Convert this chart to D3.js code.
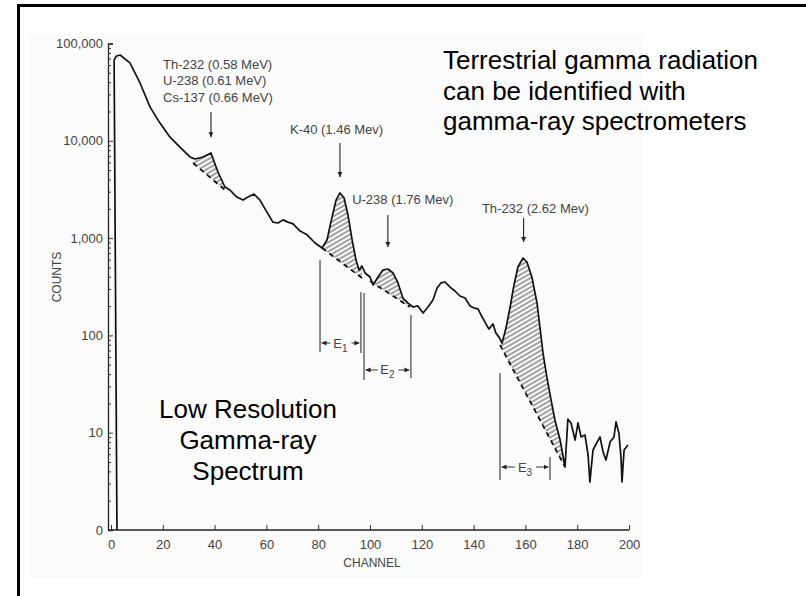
<!DOCTYPE html>
<html>
<head>
<meta charset="utf-8">
<script src="https://cdn.jsdelivr.net/npm/d3@7"></script>
<style>
  body { margin: 0; background: #fff; }
  svg { display: block; }
  text { font-family: "Liberation Sans", Arial, Helvetica, sans-serif; }
</style>
</head>
<body>
<svg id="chart" width="806" height="596"></svg>
<script>
// Gamma-ray spectrum: channel number vs counts (log scale)
const channels = [2.3, 1.2, 2.0, 3.5, 7.3, 11.2, 15.1, 18.9, 22.8, 26.6, 30.5, 32.4, 35.5, 38.6, 41.3, 44.0,
  45.9, 48.6, 51.0, 52.9, 55.2, 57.5, 60.2, 62.5, 64.5, 66.4, 68.3, 70.3, 73.0, 75.7, 78.8, 81.5, 83.4, 84.9,
  86.9, 88.4, 90.0, 91.5, 93.1, 94.6, 95.8, 96.9, 98.1, 100.0, 101.2, 103.1, 105.0, 106.9, 108.9, 110.8, 112.7,
  114.7, 116.6, 118.5, 120.5, 122.4, 124.3, 125.9, 127.4, 129.0, 130.9, 132.8, 134.7, 136.7, 138.6, 140.2, 141.7,
  142.9, 144.4, 145.9, 147.5, 148.6, 149.8, 151.0, 152.5, 154.1, 155.6, 157.1, 159.1, 160.6, 162.5, 164.5, 165.6,
  166.8, 168.3, 169.9, 171.4, 173.4, 175.3, 176.4, 177.6, 179.2, 180.3, 181.5, 183.0, 184.2, 184.9, 186.1, 188.8,
  190.0, 191.1, 192.7, 194.2, 195.0, 196.1, 196.9, 197.3, 198.1, 199.6];
const counts = [1, 67600, 74000, 76200, 63100, 39300, 22200, 15200, 10900, 8630, 6820, 6500, 6820, 7500, 4780, 3350,
  3120, 2640, 2460, 2640, 2840, 2460, 1850, 1460, 1430, 1540, 1460, 1400, 1180, 1080, 891, 791, 955, 1460,
  2460, 2910, 2580, 1730, 955, 595, 470, 517, 438, 398, 330, 398, 470, 481, 438, 346, 242,
  215, 196, 201, 170, 196, 231, 307, 346, 354, 314, 286, 254, 242, 201, 191, 187,
  162, 137, 116, 131, 106, 96, 83.5, 119, 196, 330, 505, 624, 568, 398, 215, 122,
  65.9, 37.3, 21.7, 13.5, 8.41, 4.44, 13.8, 12.6, 8.41, 12.6, 9.04, 9.47, 5.90, 3.11, 6.64, 9.04,
  6.34, 5.24, 8.02, 9.04, 12.9, 9.93, 5.63, 3.11, 6.64, 7.47];

// Background continuum under each photopeak (dashed straight lines on the log plot)
const baseStartChannel = [31.7, 81.5, 100.0, 150.2];
const baseEndChannel   = [44.0, 96.9, 115.4, 175.3];
const baseStartCount   = [5910, 791, 362, 79.7];
const baseEndCount     = [3120, 389, 196, 4.44];

// Peak labels and arrows
const peakLabels = [
  ["Th-232 (0.58 MeV)", "U-238 (0.61 MeV)", "Cs-137 (0.66 MeV)"],
  ["K-40 (1.46 Mev)"],
  ["U-238 (1.76 Mev)"],
  ["Th-232 (2.62 Mev)"]
];
const labelChannel = [20.1, 69.1, 93.1, 143.2];
const labelCount   = [54700, 11700, 2240, 1810];
const arrowChannel = [38.6, 88.4, 106.9, 159.3];
const arrowTop     = [19800, 9490, 1730, 1610];
const arrowTip     = [10900, 4250, 811, 912];

// Energy windows E1..E3
const windowLineChannel = [80.7, 96.5, 97.7, 115.8, 150.2, 169.5];
const windowLineTop     = [596, 279, 273, 162, 41.1, 5.63];
const windowLineBottom  = [67.5, 65.9, 34.8, 36.5, 3.27, 3.27];
const windowNames = ["1", "2", "3"];
const windowFrom  = [80.7, 97.7, 150.2];
const windowTo    = [96.5, 115.8, 169.5];
const windowLevel = [83.5, 44.1, 4.44];

// Axes
const xTicks = [0, 20, 40, 60, 80, 100, 120, 140, 160, 180, 200];
const yTicks = [1, 10, 100, 1000, 10000, 100000];
const yTickLabels = ["0", "10", "100", "1,000", "10,000", "100,000"];

const svg = d3.select("#chart");
const x = d3.scaleLinear().domain([0, 200]).range([111, 629]);
const y = d3.scaleLog().domain([1, 100000]).range([530, 43.5]);

const defs = svg.append("defs");
const hatch = defs.append("pattern")
  .attr("id", "hatch").attr("patternUnits", "userSpaceOnUse")
  .attr("width", 4).attr("height", 4)
  .attr("patternTransform", "rotate(-30)");
hatch.append("line").attr("x1", 0).attr("y1", 2).attr("x2", 4).attr("y2", 2)
  .attr("stroke", "#333").attr("stroke-width", 0.9);
defs.append("marker")
  .attr("id", "head").attr("viewBox", "0 0 10 10")
  .attr("refX", 10).attr("refY", 5)
  .attr("markerUnits", "userSpaceOnUse")
  .attr("markerWidth", 5).attr("markerHeight", 5).attr("orient", "auto")
  .append("path").attr("d", "M0,0L10,5L0,10z").attr("fill", "#222");

// frame and paper tone
svg.append("rect").attr("x", 30).attr("y", 34).attr("width", 612).attr("height", 544).attr("fill", "#fbfbfb");
svg.append("rect").attr("x", 18.5).attr("y", 5.5).attr("width", 800).attr("height", 600)
  .attr("fill", "none").attr("stroke", "#000").attr("stroke-width", 3);

// axes
const yAxisX = x(0) - 3;
const gy = svg.append("g").attr("transform", `translate(${yAxisX},0)`)
  .call(d3.axisLeft(y).tickValues(yTicks).tickFormat((d, i) => yTickLabels[i]).tickSize(-5).tickPadding(5));
const minor = [];
for (let k = 0; k < 5; k++) for (let m = 2; m <= 9; m++) minor.push(m * Math.pow(10, k));
svg.append("g").attr("transform", `translate(${yAxisX},0)`)
  .call(d3.axisLeft(y).tickValues(minor).tickFormat("").tickSize(-3))
  .call(g => g.select(".domain").remove());
const gx = svg.append("g").attr("transform", `translate(0,${y(1)})`)
  .call(d3.axisBottom(x).tickValues(xTicks).tickSize(-5).tickPadding(10));
gx.select(".domain").remove();
svg.append("line").attr("x1", yAxisX).attr("x2", x(200)).attr("y1", y(1)).attr("y2", y(1))
  .attr("stroke", "#222").attr("stroke-width", 1.3);
[gx, gy].forEach(g => {
  g.selectAll("text").attr("font-size", 13).attr("fill", "#444")
    .attr("font-family", '"Liberation Sans", Arial, sans-serif');
  g.selectAll("line").attr("stroke", "#333");
  g.select(".domain").attr("stroke", "#222").attr("stroke-width", 1.3);
});
svg.selectAll(".tick line").attr("stroke", "#333");

svg.append("text").attr("x", 372).attr("y", 567).attr("text-anchor", "middle")
  .attr("font-size", 12).attr("fill", "#444").text("CHANNEL");
svg.append("text").attr("transform", "translate(61,277) rotate(-90)").attr("text-anchor", "middle")
  .attr("font-size", 12).attr("fill", "#444").text("COUNTS");

// spectrum
const pts = channels.map((c, i) => ({ c, v: counts[i] }));
function countAt(c) {
  for (let i = 3; i < pts.length - 1; i++) {
    const a = pts[i], b = pts[i + 1];
    if (c >= a.c && c <= b.c) {
      const t = (c - a.c) / (b.c - a.c);
      return Math.pow(10, Math.log10(a.v) + t * (Math.log10(b.v) - Math.log10(a.v)));
    }
  }
  return pts[pts.length - 1].v;
}

// hatched peak areas above the continuum
baseStartChannel.forEach((c0, i) => {
  const c1 = baseEndChannel[i];
  const l0 = Math.log10(baseStartCount[i]), l1 = Math.log10(baseEndCount[i]);
  const base = c => Math.pow(10, l0 + (c - c0) / (c1 - c0) * (l1 - l0));
  const cs = [c0, ...channels.slice(3).filter(c => c > c0 && c < c1), c1];
  const samples = cs.map(c => ({ c, top: Math.max(countAt(c), base(c)), bot: base(c) }));
  svg.append("path").datum(samples)
    .attr("d", d3.area().x(d => x(d.c)).y0(d => y(d.bot)).y1(d => y(d.top)))
    .attr("fill", "url(#hatch)");
  svg.append("path").datum([{ c: c0, v: baseStartCount[i] }, { c: c1, v: baseEndCount[i] }])
    .attr("d", d3.line().x(d => x(d.c)).y(d => y(d.v)))
    .attr("fill", "none").attr("stroke", "#111").attr("stroke-width", 1.8)
    .attr("stroke-dasharray", "5,4");
});

svg.append("path").datum(pts)
  .attr("d", d3.line().x(d => x(d.c)).y(d => y(d.v)))
  .attr("fill", "none").attr("stroke", "#111").attr("stroke-width", 1.7)
  .attr("stroke-linejoin", "round");

// peak annotations
peakLabels.forEach((lines, i) => {
  const t = svg.append("text").attr("font-size", 13).attr("fill", "#444");
  lines.forEach((s, j) => {
    t.append("tspan").attr("x", x(labelChannel[i])).attr("y", y(labelCount[i]) + j * 16.5).text(s);
  });
  svg.append("line")
    .attr("x1", x(arrowChannel[i])).attr("x2", x(arrowChannel[i]))
    .attr("y1", y(arrowTop[i])).attr("y2", y(arrowTip[i]))
    .attr("stroke", "#222").attr("stroke-width", 1.1).attr("marker-end", "url(#head)");
});

// energy windows
windowLineChannel.forEach((c, i) => {
  svg.append("line").attr("x1", x(c)).attr("x2", x(c))
    .attr("y1", y(windowLineTop[i])).attr("y2", y(windowLineBottom[i]))
    .attr("stroke", "#333").attr("stroke-width", 1.1);
});
windowFrom.forEach((c0, i) => {
  const x0 = x(c0), x1 = x(windowTo[i]), yy = y(windowLevel[i]), xm = (x0 + x1) / 2;
  svg.append("line").attr("x1", xm - 10).attr("x2", x0 + 1.5).attr("y1", yy).attr("y2", yy)
    .attr("stroke", "#333").attr("stroke-width", 1).attr("marker-end", "url(#head)");
  svg.append("line").attr("x1", xm + 11).attr("x2", x1 - 1.5).attr("y1", yy).attr("y2", yy)
    .attr("stroke", "#333").attr("stroke-width", 1).attr("marker-end", "url(#head)");
  const t = svg.append("text").attr("x", xm).attr("y", yy + 4.5).attr("text-anchor", "middle")
    .attr("font-size", 13).attr("fill", "#444");
  t.append("tspan").text("E");
  t.append("tspan").attr("font-size", 10).attr("dy", 4).text(windowNames[i]);
});

// captions
const cap1 = svg.append("text").attr("font-size", 26).attr("fill", "#000");
["Terrestrial gamma radiation", "can be identified with", "gamma-ray spectrometers"].forEach((s, j) => {
  cap1.append("tspan").attr("x", 443).attr("y", 69 + j * 30.5).text(s);
});
const cap2 = svg.append("text").attr("font-size", 26).attr("fill", "#000").attr("text-anchor", "middle");
["Low Resolution", "Gamma-ray", "Spectrum"].forEach((s, j) => {
  cap2.append("tspan").attr("x", 248).attr("y", 418 + j * 31).text(s);
});
</script>
</body>
</html>
